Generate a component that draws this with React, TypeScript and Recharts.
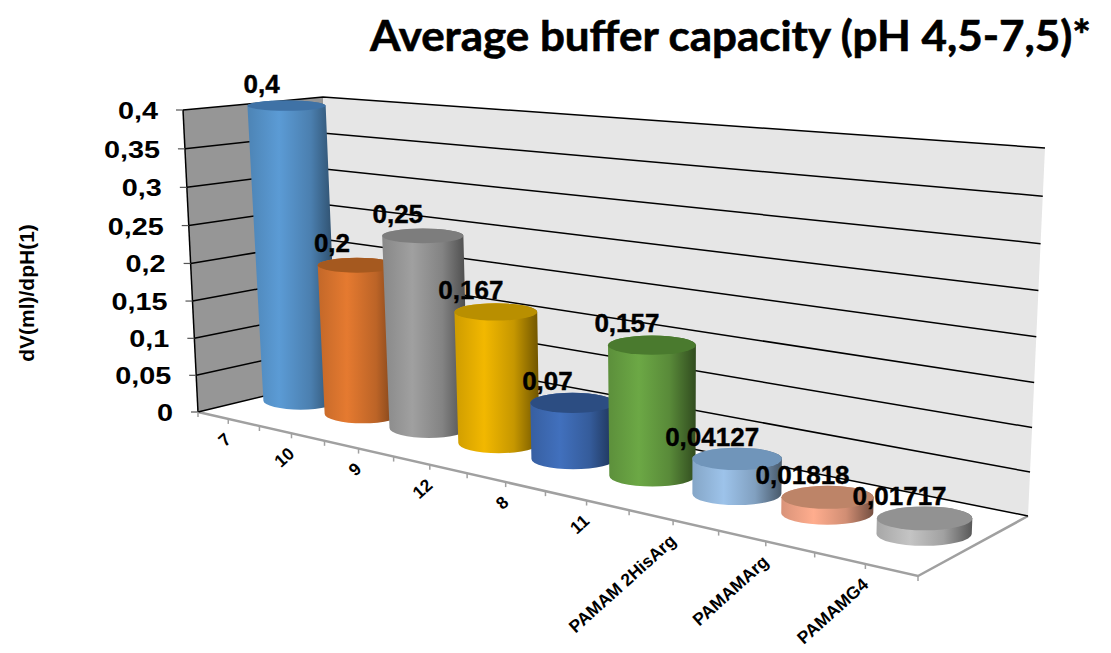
import React from "react"
import { BarChart, Bar, XAxis, YAxis, CartesianGrid, LabelList } from "recharts"

const categories = ["7", "10", "9", "12", "8", "11", "PAMAM 2HisArg", "PAMAMArg", "PAMAMG4"]
const capacity = [0.4, 0.2, 0.25, 0.167, 0.07, 0.157, 0.04127, 0.01818, 0.01717]
const yTicks = [0, 0.05, 0.1, 0.15, 0.2, 0.25, 0.3, 0.35, 0.4]
const barColors = ["#5b9bd5", "#e57a30", "#a0a0a0", "#f2b800", "#4170bd", "#6ca845", "#9dc3ea", "#ffad8e", "#c4c4c4"]
const capColors = ["#3f72a6", "#a5591f", "#7d7d7d", "#b98f00", "#2c4d82", "#4a7a2e", "#7095ba", "#bd8468", "#929292"]

const data = categories.map((name, i) => ({ name, capacity: capacity[i] }))

const WIDTH = 1111
const HEIGHT = 653
const PLOT = { left: 100, top: 100, width: 900, height: 300 }

type Pt = [number, number]

// maps the unit square onto a quad (bottom-left, bottom-right, top-right, top-left)
function quadMap(p0: Pt, p1: Pt, p2: Pt, p3: Pt) {
  const dx1 = p1[0] - p2[0]
  const dx2 = p3[0] - p2[0]
  const sx = p0[0] - p1[0] + p2[0] - p3[0]
  const dy1 = p1[1] - p2[1]
  const dy2 = p3[1] - p2[1]
  const sy = p0[1] - p1[1] + p2[1] - p3[1]
  const det = dx1 * dy2 - dx2 * dy1
  const g = (sx * dy2 - dx2 * sy) / det
  const h = (dx1 * sy - sx * dy1) / det
  const a = p1[0] - p0[0] + g * p1[0]
  const b = p3[0] - p0[0] + h * p3[0]
  const d = p1[1] - p0[1] + g * p1[1]
  const e = p3[1] - p0[1] + h * p3[1]
  return (u: number, v: number): Pt => {
    const w = g * u + h * v + 1
    return [(a * u + b * v + p0[0]) / w, (d * u + e * v + p0[1]) / w]
  }
}

const frontPlane = quadMap([198, 412], [918, 576], [930, 174], [183, 110])
const backPlane = quadMap([338, 378], [1028, 516], [1045, 148], [323, 97])
const BAR_DEPTH = 0.52

// u along the categories, v up the value axis, depth from the front plane to the back wall
function project(u: number, v: number, depth: number): Pt {
  const f = frontPlane(u, v)
  const b = backPlane(u, v)
  return [f[0] + (b[0] - f[0]) * depth, f[1] + (b[1] - f[1]) * depth]
}

const toU = (x: number) => (x - PLOT.left) / PLOT.width
const toV = (y: number) => (PLOT.top + PLOT.height - y) / PLOT.height

function shade(hex: string, f: number) {
  const n = parseInt(hex.slice(1), 16)
  const c = [n >> 16, (n >> 8) & 255, n & 255].map((ch) => Math.round(ch * f))
  return `rgb(${c.join(",")})`
}

// flatter ellipses higher up, since the view is from just above the chart
const ellipseRatio = (y: number) => Math.min(0.25, 0.13 + ((y - 100) / 300) * 0.11)

function cylinder(x: number, y: number, width: number) {
  const u = toU(x + width / 2)
  const v = toV(y)
  const base = project(u, 0, BAR_DEPTH)
  const top = project(u, v, BAR_DEPTH)
  const roof = project(u, 1, BAR_DEPTH)
  const scale = Math.hypot(roof[0] - base[0], roof[1] - base[1]) / PLOT.height
  const rxBase = (width / 2) * scale * 0.97
  const rxTop = rxBase * (1 + 0.05 * v)
  return { base, top, rxBase, rxTop, ryBase: rxBase * ellipseRatio(base[1]), ryTop: rxTop * ellipseRatio(top[1]) }
}

function CylinderShape(props: any) {
  const { x, y, width, index } = props
  const { base, top, rxBase, rxTop, ryBase, ryTop } = cylinder(x, y, width)
  const side = [
    `M${top[0] - rxTop},${top[1]}`,
    `L${base[0] - rxBase},${base[1]}`,
    `A${rxBase},${ryBase} 0 0 0 ${base[0] + rxBase},${base[1]}`,
    `L${top[0] + rxTop},${top[1]}`,
    `A${rxTop},${ryTop} 0 0 0 ${top[0] - rxTop},${top[1]}`,
    "Z",
  ].join(" ")
  return (
    <g>
      <path d={side} fill={`url(#side${index})`} />
      <ellipse cx={top[0]} cy={top[1]} rx={rxTop} ry={ryTop} fill={capColors[index]} />
    </g>
  )
}

function ValueLabel(props: any) {
  const { x, y, width, value } = props
  const { top } = cylinder(x, y, width)
  return (
    <text
      x={top[0] - 25}
      y={top[1] - 20}
      textAnchor="middle"
      dominantBaseline="middle"
      fontFamily="'Liberation Sans'"
      fontWeight="bold"
      fontSize={26}
      stroke="#000"
      strokeWidth={0.4}
      fill="#000"
    >
      {String(value).replace(".", ",")}
    </text>
  )
}

function GridLine(props: any) {
  const v = toV(props.y1)
  const a = project(0, v, 0)
  const b = project(0, v, 1)
  const c = project(1, v, 1)
  return (
    <g key={props.key}>
      <polyline points={`${a} ${b} ${c}`} fill="none" stroke="#000" strokeWidth={1.5} />
      <line x1={a[0] - 7} y1={a[1]} x2={a[0]} y2={a[1]} stroke="#555" strokeWidth={1.2} />
    </g>
  )
}

function ValueTick(props: any) {
  const { y, payload } = props
  const p = project(0, toV(y), 0)
  return (
    <text
      transform={`translate(${p[0] - 25},${p[1] + 9}) scale(1.2,1)`}
      textAnchor="end"
      fontFamily="'Liberation Sans'"
      fontWeight="bold"
      fontSize={24}
      fill="#000"
    >
      {String(payload.value).replace(".", ",")}
    </text>
  )
}

function CategoryTick(props: any) {
  const { x, payload, index } = props
  const band = PLOT.width / categories.length
  const u = toU(x)
  const p = frontPlane(u, 0)
  const marks = [u, toU(x - band / 2)]
  if (index === categories.length - 1) marks.push(toU(x + band / 2))
  return (
    <g>
      {marks.map((m, i) => {
        const t = frontPlane(m, 0)
        return <line key={i} x1={t[0]} y1={t[1]} x2={t[0]} y2={t[1] + 5} stroke="#a0a0a0" strokeWidth={1.5} />
      })}
      <text
        transform={`translate(${p[0] + 4},${p[1] + 22}) rotate(-42)`}
        textAnchor="end"
        fontFamily="'Liberation Sans'"
        fontWeight="bold"
        fontSize={17.5}
        fill="#000"
      >
        {payload.value}
      </text>
    </g>
  )
}

function Walls() {
  const pts = (list: Pt[]) => list.map((p) => p.join(",")).join(" ")
  const fl = project(0, 0, 0)
  const fr = project(1, 0, 0)
  const br = project(1, 0, 1)
  return (
    <g>
      <polygon points={pts([project(0, 0, 0), project(0, 0, 1), project(0, 1, 1), project(0, 1, 0)])} fill="#969696" />
      <polygon points={pts([project(0, 0, 1), project(1, 0, 1), project(1, 1, 1), project(0, 1, 1)])} fill="#e6e6e6" />
      <line x1={fl[0]} y1={fl[1]} x2={project(0, 1, 0)[0]} y2={project(0, 1, 0)[1]} stroke="#000" strokeWidth={1.5} />
      <polyline points={pts([fl, fr, br])} fill="none" stroke="#a0a0a0" strokeWidth={2.5} />
    </g>
  )
}

export default function App() {
  return (
    <div style={{ position: "absolute", left: 0, top: 0 }}>
      <BarChart
        width={WIDTH}
        height={HEIGHT}
        data={data}
        barCategoryGap="11%"
        margin={{ left: 0, top: PLOT.top, right: WIDTH - PLOT.left - PLOT.width, bottom: 0 }}
      >
        <defs>
          {barColors.map((c, i) => (
            <linearGradient key={c} id={`side${i}`} x1="0" y1="0" x2="1" y2="0">
              <stop offset="0" stopColor={shade(c, 0.85)} />
              <stop offset="0.35" stopColor={c} />
              <stop offset="0.7" stopColor={shade(c, 0.82)} />
              <stop offset="1" stopColor={shade(c, 0.45)} />
            </linearGradient>
          ))}
        </defs>
        <Walls />
        <CartesianGrid vertical={false} horizontal={GridLine} zIndex={1} />
        <XAxis
          dataKey="name"
          height={HEIGHT - PLOT.top - PLOT.height}
          axisLine={false}
          tickLine={false}
          interval={0}
          tick={CategoryTick}
        />
        <YAxis
          width={PLOT.left}
          domain={[0, 0.4]}
          ticks={yTicks}
          axisLine={false}
          tickLine={false}
          tick={ValueTick}
        />
        <Bar dataKey="capacity" shape={CylinderShape} isAnimationActive={false}>
          <LabelList dataKey="capacity" content={ValueLabel} />
        </Bar>
        <text
          transform="translate(370,51) scale(1.046,1)"
          fontFamily="Lato"
          fontWeight="bold"
          fontSize={42}
          stroke="#000"
          strokeWidth={0.6}
          fill="#000"
        >
          Average buffer capacity (pH 4,5-7,5)*
        </text>
        <text
          transform="translate(34,293) rotate(-90)"
          textAnchor="middle"
          fontFamily="'Liberation Sans'"
          fontWeight="bold"
          fontSize={21}
          fill="#000"
        >
          dV(ml)/dpH(1)
        </text>
      </BarChart>
    </div>
  )
}
